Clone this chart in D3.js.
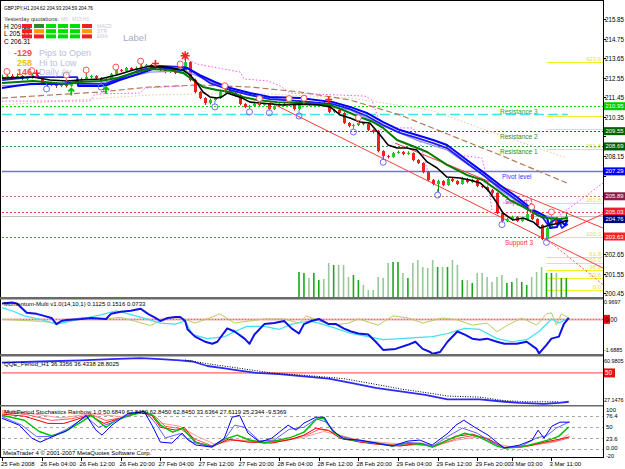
<!DOCTYPE html>
<html>
<head>
<meta charset="utf-8">
<script src="https://cdn.jsdelivr.net/npm/d3@7"></script>
<style>
  body { margin: 0; background: #fff; }
  svg text { font-family: 'Liberation Sans', Arial, sans-serif; }
</style>
</head>
<body>
<script>
// GBPJPY H1 candles, 25 Feb 20:00 .. 3 Mar 14:00 (bar index 0..114)
const openFirst = 212.54;
const closes = [
  212.59,212.65,212.54,212.65,212.48,212.54,212.70,212.59,212.25,212.14,
  212.25,212.09,212.20,212.09,212.25,212.42,212.48,212.59,212.65,212.54,
  212.42,212.48,212.76,212.98,212.93,213.10,212.98,213.10,213.21,213.27,
  213.21,213.15,212.98,212.87,212.93,212.82,212.87,213.43,212.42,211.75,
  211.41,211.13,211.30,211.41,211.75,211.86,211.69,211.58,211.08,210.91,
  210.96,211.08,211.02,211.08,210.79,210.96,211.08,211.02,211.08,210.79,
  211.08,211.13,211.02,211.08,211.13,211.08,210.63,210.74,210.57,210.01,
  209.84,209.89,210.01,209.95,209.61,209.50,208.43,208.15,208.10,208.32,
  208.38,208.27,208.32,207.93,207.76,207.25,206.81,206.58,206.75,206.52,
  206.86,206.75,206.58,206.86,206.69,206.81,206.47,206.41,206.24,206.08,
  204.95,204.50,204.61,204.73,204.50,204.61,204.89,204.61,204.28,203.49,
  204.11,204.61,204.33,204.62,204.76];
const highs = [
  212.72,212.78,212.75,212.80,212.70,212.62,212.84,212.79,212.62,212.30,
  212.32,212.28,212.26,212.24,212.30,212.48,212.56,212.84,212.72,212.70,
  212.58,212.55,212.82,213.05,213.04,213.16,213.14,213.18,213.36,213.33,
  213.32,213.25,213.20,213.03,213.00,212.98,213.05,213.66,213.48,212.50,
  211.80,211.46,211.38,211.47,211.82,211.98,211.90,211.74,211.62,211.12,
  211.02,211.14,211.25,211.14,211.12,211.00,211.12,211.14,211.25,211.12,
  211.12,211.28,211.18,211.14,211.20,211.22,211.25,210.82,210.80,210.62,
  210.06,209.96,210.18,210.06,210.00,209.66,209.62,208.48,208.22,208.38,
  208.46,208.44,208.42,208.36,207.98,207.80,207.30,206.86,206.82,206.80,
  206.92,206.92,206.80,206.98,206.92,206.88,206.86,206.54,206.46,206.30,
  206.12,205.00,204.70,204.80,204.78,204.68,205.15,204.94,204.66,204.32,
  204.16,204.68,204.66,204.70,204.93];
const lows = [
  212.48,212.52,212.46,212.50,212.40,212.42,212.50,212.52,212.18,212.05,
  212.08,211.98,212.02,212.00,212.04,212.20,212.36,212.44,212.52,212.46,
  212.30,212.28,212.44,212.70,212.86,212.88,212.92,212.94,213.06,213.15,
  213.12,213.06,212.92,212.80,212.82,212.76,212.78,212.84,212.34,211.68,
  211.35,211.02,211.05,211.25,211.36,211.70,211.62,211.50,211.00,210.84,
  210.85,210.92,210.96,210.98,210.72,210.74,210.92,210.96,210.98,210.70,
  210.74,211.02,210.96,210.98,211.02,211.02,210.56,210.58,210.50,209.95,
  209.76,209.70,209.84,209.88,209.55,209.42,208.36,207.95,208.02,208.05,
  208.28,208.20,208.22,207.86,207.70,207.18,206.74,206.50,206.12,206.45,
  206.48,206.68,206.52,206.54,206.62,206.64,206.40,206.34,206.16,205.98,
  204.88,204.42,204.44,204.52,204.44,204.46,204.55,204.55,204.20,203.42,
  203.44,204.06,204.26,204.28,204.59];

// tick volume, shown from bar 60 on
const volumeFirstBar = 60;
const volumes = [
  1250,1200,950,1200,850,900,1700,1600,1600,1600,1000,1100,850,600,350,350,
  1000,950,1700,1750,1750,1200,950,1700,1850,1500,1450,1850,1500,1500,1500,
  1850,1600,850,850,700,1200,1200,1000,750,1000,1100,700,750,950,750,600,
  1000,1250,1500,1200,1200,1200,950,950];

const timeLabels = [
  [0,"25 Feb 2008"],[8,"26 Feb 04:00"],[16,"26 Feb 12:00"],[24,"26 Feb 20:00"],
  [32,"27 Feb 04:00"],[40,"27 Feb 12:00"],[48,"27 Feb 20:00"],[56,"28 Feb 04:00"],
  [64,"28 Feb 12:00"],[72,"28 Feb 20:00"],[80,"29 Feb 04:00"],[88,"29 Feb 12:00"],
  [96,"29 Feb 20:00"],[103,"3 Mar 03:00"],[111,"3 Mar 11:00"]];

const priceTicks = [215.85,214.75,213.65,212.55,211.45,210.35,209.25,208.15,
  207.05,205.95,204.85,203.75,202.65,201.55,200.45];

// pivot levels
const levelNames = ["Resistance 3","Resistance 2","Resistance 1","Pivot level","Support 1","","Support 3"];
const levelPrices = [210.95, 209.55, 208.69, 207.29, 205.89, 205.03, 203.63];
const currentPrice = 204.76;
const cyanLevel = 210.52;

// fibonacci expansion (right side)
const fibPrices = [200.60,201.32,201.76,202.12,202.47,203.63,205.50,208.53,209.69,210.40,213.44];
const fibLabels = ["0.0","23.6","38.2","50.0","61.8","100.0","161.8","261.8","","","423.6"];
const fibStartBar = 110;

// moving averages: [bar, price]
const maBlack = [[0,212.53],[6.3,212.59],[9.7,212.42],[13.1,212.37],[15.8,212.42],[19.8,212.48],[23.2,212.70],[26.5,212.98],[29.9,213.21],[33.3,213.15],[36.6,212.98],[38,212.70],[39.4,212.25],[40.6,211.75],[42,211.47],[43.4,211.41],[44.4,211.47],[45.5,211.69],[46.7,211.58],[48.5,211.41],[50.1,211.18],[52.1,211.13],[56.8,211.02],[60.2,211.07],[64.2,211.02],[66.3,210.91],[68.3,210.46],[70.3,210.29],[72.3,210.06],[74.3,210.01],[76.4,209.33],[78,208.77],[79.8,208.60],[81.8,208.60],[83.8,208.49],[85.9,207.82],[87.9,207.48],[89.9,206.97],[92.5,206.92],[94.5,206.80],[96.6,206.64],[98.2,206.24],[100,205.51],[101.2,204.95],[103.2,204.56],[105.3,204.67],[107.3,204.45],[108.7,204.11],[110.7,204.28],[112.7,204.39],[114.3,204.56]];
const maGreen = [[0,212.25],[6.3,212.37],[13.1,212.20],[15.8,212.31],[19.8,212.37],[23.2,212.53],[26.5,212.82],[29.9,213.04],[34,212.98],[36.6,212.82],[38.6,212.42],[40.6,212.03],[43.4,211.86],[46.1,211.75],[48.7,211.47],[51.5,211.30],[55.6,211.18],[60.2,211.13],[66.3,211.02],[68.9,210.74],[72.3,210.34],[75,210.06],[77,209.73],[79.8,209.05],[82.4,208.77],[85.9,208.38],[89.9,207.65],[93.9,207.09],[97.2,206.80],[100,206.24],[102.6,205.68],[105.3,205.29],[108.1,204.84],[110.1,204.67],[112.7,204.61],[114.3,204.67]];
const maLavender = [[0,212.09],[9.7,212.20],[19.8,212.25],[29.9,212.87],[37,212.93],[40,212.59],[46.1,211.86],[52.1,211.47],[60.2,211.24],[70.3,210.74],[77,209.84],[83.8,209.05],[89.9,208.49],[97.2,207.09],[100.6,206.24],[107.3,205.01],[114.3,204.45]];
const maBlueA = [[0,211.97],[2.6,212.09],[5.7,212.20],[11.7,212.20],[15.2,212.31],[15.4,212.09],[19.8,212.09],[21.2,212.14],[23.8,212.42],[26.9,212.70],[29.9,212.98],[31.3,213.15],[36,212.98],[37.4,213.10],[40,212.70],[43,212.31],[46.1,211.97],[50.1,211.69],[54.1,211.47],[60.2,211.41],[66.9,211.18],[70.3,210.91],[73.7,210.57],[77,210.06],[80.4,209.61],[83.8,209.33],[87.1,209.05],[89.9,208.77],[93.9,207.93],[97.2,207.25],[100.6,206.52],[104,205.85],[107.3,205.12],[109.3,204.84],[110.1,204.67],[110.7,204.11],[112.1,204.16],[112.7,204.56],[113.7,204.28],[114.3,204.56]];
const maBlueB = [[0,212.42],[5.7,212.59],[15.2,212.59],[15.4,212.20],[20.8,212.20],[22.8,212.42],[27.9,212.98],[31.9,213.21],[37,213.15],[39,212.82],[42,212.25],[46.1,211.86],[50.1,211.58],[54.1,211.35],[60.2,211.24],[66.9,211.07],[70.3,210.79],[73.7,210.40],[77,209.89],[80.4,209.45],[83.8,209.17],[87.1,208.88],[89.9,208.60],[93.9,207.76],[97.2,207.09],[100.6,206.36],[104,205.68],[107.3,205.01],[109.3,204.67],[110.3,204.28],[111.1,204.45],[112.1,204.67],[113.1,204.11],[114.3,204.33]];
const maBrown = [[0,211.41],[19.8,211.75],[29.9,212.03],[40,212.14],[50.1,212.03],[60.2,211.75],[70.3,211.30],[80.4,210.46],[90.5,209.33],[100.6,208.21],[114.1,206.64]];
const maBeige = [[0,211.02],[29.9,211.58],[50.1,211.69],[70.3,211.41],[86.5,210.74],[100.6,209.33],[114.1,208.04]];
const stopSegments = [
  [[0,211.24],[17.8,211.24],[18.8,211.64],[27.9,211.69],[28.9,211.97],[36.6,212.09]],
  [[37,213.66],[39.4,213.32],[48.1,212.87],[48.9,212.48],[53.7,212.37],[56.2,212.09],[58.2,211.69],[73.3,211.52],[74.7,211.30],[76,210.29],[76.8,209.33]],
  [[79,209.73],[83,209.73],[84.4,209.05],[85.9,207.37]],
  [[91.9,208.21],[97,208.04],[98,206.80],[99,205.12]],
  [[101.2,205.51],[107.3,205.68]],
  [[112.7,204.84],[118.8,206.08],[121.4,206.64]]];

// trend lines: [[bar, price], [bar, price]]
const trendSolid = [
  [[54.1,211.18],[121.4,201.86]],
  [[79.4,208.88],[121.4,204.11]],
  [[109.7,203.43],[121.4,204.89]]];
const trendDotted = [[[109.7,203.55],[121.4,200.93]]];

// signal markers: [bar, price]
const redCircles = [[1,212.90],[6,212.95],[13,212.70],[17,212.98],[23,213.15],[28,213.48],[36,213.32],[45,212.10],[52,211.38],[58,211.38],[61,211.40],[72,210.30],[107,205.29],[111,205.01]];
const blueCircles = [[9,211.92],[20,212.03],[43,210.91],[50,210.63],[54,210.58],[60,210.40],[71,209.50],[77,207.80],[88,205.96],[101,204.30],[110,203.30]];
const greenArrows = [[14,211.95],[21,212.03]];
const redCrosses = [[7,212.80],[31,213.35],[66,211.32]];
const redStars = [[37,213.78]];

// Momentum-Multi: [bar, value]
const momBlue = [[0,0.77],[2,0.82],[3,0.77],[5,0.32],[7,0.27],[8.5,0.17],[10,0.07],[11,-0.23],[12,-0.08],[13,-0.03],[16,0.02],[18,0.07],[21,0.02],[22,0.27],[24,0.37],[26,0.42],[28,0.52],[29.5,0.27],[31,0.07],[32,-0.08],[33.5,0.07],[35,0.12],[36,0.12],[37,-0.08],[37.5,-0.49],[39,-0.84],[41,-1.09],[42.5,-1.19],[43.5,-1.09],[45.5,-0.44],[47,-0.59],[49,-0.94],[50,-1.19],[51,-0.74],[53,-0.23],[55,-0.18],[57,-0.08],[58.5,-0.44],[60,-0.69],[61,-0.23],[62.5,-0.08],[64,0.02],[66,-0.23],[67.5,-0.23],[69,-0.44],[70.5,-0.59],[72,-0.69],[74,-0.74],[75.5,-1.09],[77,-1.49],[79.5,-1.44],[82,-1.24],[83.5,-1.09],[85,-1.44],[86.5,-1.59],[87,-1.68],[88.5,-1.59],[90,-1.09],[92,-0.59],[93.5,-0.74],[95,-0.94],[96.5,-0.99],[98,-0.94],[100,-1.09],[101.5,-1.19],[104,-1.19],[106,-1.09],[108,-1.44],[108.5,-1.66],[110,-1.24],[111,-0.94],[112.5,-0.84],[113.5,-0.23],[114.5,0.07]];
const momCyan = [[0,0.57],[2,0.42],[4.5,0.17],[7.5,0.02],[11,-0.23],[16,0.02],[20,0.22],[23,0.42],[25.5,0.27],[28.5,0.07],[32,-0.18],[35,-0.23],[37,-0.08],[38.5,-0.74],[41.5,-0.94],[45,-0.84],[47,-0.59],[49.5,-0.34],[53,-0.34],[56,-0.49],[58.5,-0.23],[62,-0.08],[64,-0.18],[67.5,-0.44],[70.5,-0.69],[74,-0.84],[77,-0.99],[80.5,-0.94],[83.5,-0.89],[87,-0.84],[90,-0.69],[93.5,-0.44],[96.5,-0.49],[100,-0.94],[103,-1.09],[106,-0.99],[108.5,-0.59],[111,0.02],[112.5,-0.18],[114.5,0.07]];
const momOlive = [[0,0.0],[4,-0.05],[8,-0.1],[12,-0.2],[16,0.1],[20,0.0],[24,0.1],[27,-0.1],[30,-0.3],[33,0.07],[36,0.07],[39,-0.18],[42,0.07],[44,0.27],[47,-0.18],[50,-0.08],[53,0.02],[57,0.02],[60,-0.18],[61.5,0.17],[64,-0.08],[67,-0.28],[70,-0.18],[72,0.02],[76,-0.28],[79,0.17],[82,0.07],[85,-0.18],[89,0.07],[92,-0.03],[95,-0.28],[98,-0.18],[100,-0.6],[102,-0.3],[105,0.07],[108,-0.28],[110,0.27],[111,0.32],[112,-0.28],[113,0.27],[114.5,0.07]];
const momMax = 0.9697, momMin = -1.6885;

// QQE panel
const qqeBlue = [[0,57.6],[8,58.4],[16,59.3],[22,60.1],[28,60.9],[32,60.1],[36,59.3],[38.5,58.4],[41.5,55.1],[45,53.4],[48,51.7],[51.5,50.0],[56,49.1],[61,47.5],[66,45.8],[71,42.4],[75.5,39.0],[80.5,36.5],[85.5,33.9],[90,30.5],[96.5,30.5],[101.5,28.8],[104.5,28.0],[109.5,27.2],[112.5,28.0],[114.5,28.8]];
const qqeSignal = [[37,59.5],[41.5,56.8],[48,53.4],[54.5,50.0],[61,48.3],[69,45.8],[75.5,41.6],[80.5,38.2],[87,34.8],[90,33.0],[96.5,32.2],[101.5,29.6],[106,28.8],[112.5,28.8]];
const qqeMax = 60.9805, qqeMin = 27.1476, qqeLevel = 50;

// Stochastics rainbow
const stochBlue1 = [[0,71],[3.5,54.9],[6,24.4],[7.7,15],[10,26.8],[13.3,43.1],[17,78],[19,43.1],[20.2,31.5],[22.2,54.9],[25.5,82.9],[27.9,85.3],[28.7,87.6],[30.3,54.9],[32,15],[34.3,12.7],[36.4,36.1],[37.6,19.8],[39.2,8.1],[42.4,3.4],[44.9,24.4],[46.5,73.5],[48,78.2],[49.7,36.1],[52.1,15],[54.5,24.4],[57.8,54.9],[59.4,43.1],[61,59.6],[63.4,73.5],[65.1,73.5],[66.7,43.1],[69.1,22.1],[72.3,19.8],[75.5,12.7],[78.8,5.7],[82,17.4],[84.4,19.8],[86.9,8.1],[90.1,36.1],[91.7,54.9],[93.3,66.5],[95.8,47.8],[98.2,31.5],[101.4,1.1],[104.6,8.1],[107.1,19.8],[108.3,43.1],[109.5,24.4],[111.1,52.5],[112.7,61.9],[114.7,62]];
const stochBlue2 = [[0,75],[4,55],[7,28],[10,28],[13,45],[17,75],[19.5,50],[22,60],[26,82],[29,86],[31,60],[33,25],[36,35],[38.5,15],[42,4],[45,22],[47,55],[49,50],[52,18],[55,20],[58,45],[61,50],[63.5,70],[65.5,62],[68,30],[72,18],[76,12],[79,6],[82,14],[85,12],[87,5],[90,28],[93,48],[96,36],[99,15],[101.5,2],[105,6],[108,25],[110,30],[112,48],[114.5,62]];
const stochGreen = [[0,78],[4.5,66.5],[7.5,40],[10,30],[12.5,38.5],[16,62],[18,78],[21,50],[23,66.5],[26.5,80.6],[29,85.3],[30.5,78],[32,55],[34.5,38.5],[36.5,47.8],[39,15],[42.5,5],[45,22],[47.5,31.5],[50,20],[53,12.7],[56,19.8],[58.5,26.8],[61,38.5],[63.5,68.9],[65,71.2],[67,38.5],[69,22.1],[72.5,17.4],[75.5,12.7],[79,5.7],[82,12.7],[85.5,8.1],[87,3.4],[90.5,22.1],[93.5,36.1],[96.5,26.8],[100,5.7],[101.5,1.1],[105,3.4],[108,12.7],[111,22.1],[112.5,29.1],[114.5,50.7]];
const stochRed1 = [[0,81],[4.5,76],[9.3,59],[12.5,59],[15.8,71],[17.8,78],[20.6,59],[23.8,71],[27.9,85],[30.3,78],[32,50],[35.2,43],[36.8,50],[39.2,15],[42.4,3.4],[45.7,22],[49.7,15],[54.5,12.7],[58.6,22],[61,31.5],[63.4,47.8],[65.9,43],[68.3,24.4],[72.3,15],[75.5,10.4],[80.4,5.7],[84.4,12.7],[86.9,3.4],[91.7,29],[95,33.8],[98.2,22],[101.4,1.1],[106.3,5.7],[109.5,15],[112.7,22],[114.7,27.6]];
const stochRed2 = [[0,86],[5,80],[10,66],[14,70],[18,80],[21,66],[24,72],[28,85],[31,75],[33,52],[36,47],[39,22],[42.5,6],[46,20],[50,17],[55,15],[59,24],[62,34],[64,45],[66,42],[69,27],[73,17],[77,11],[81,7],[85,11],[87.5,5],[92,24],[95,30],[98,24],[101.5,3],[106,6],[110,14],[113,20],[114.5,25.2]];
const stochRed3 = [[0,90],[6,82],[12,72],[18,82],[24,75],[28,88],[32,60],[36,52],[39.5,28],[43,10],[47,20],[52,19],[57,18],[61,27],[65,40],[68,32],[72,20],[77,14],[82,9],[87,7],[92,20],[96,27],[100,10],[103,4],[108,9],[112,16],[114.5,33.6]];
const stochLevels = [76.4, 50, 23.6, 0];
const stochHistFirstBar = 29;
const stochHist = [
  -6,-8,-5,-7,-9,-6,-4,-7,-8,-5, 0,0,0,0,0,
  -5,-7,-9,-6,-8,-4,-6,-9,-7,-5,-8,-6,-9,-7,-5,-6,-8,-9,-7,-4,-6,-8,-5,-7,-6,
  0,0,0,0,
  -6,-8,-5,-9,-7,-6,-8,-4,-7,-9,-6,-5,-8,-7,-6,-9,
  0,0,0,0, -5,-7,-6,-8,-4,-6, 0,0,0,
  -7,-5,-8,-6,-9,-7,-5,-8,-6,-7,-9,-5,-6];

// header info
const headerText = "GBPJPY,H1 204.62 204.93 204.59 204.76";
const yesterdayRows = ["H 209.63", "L 205.55", "C 206.31"];
const signalRows = ["MACD", "STR", "EMA"];
const signalCols = ["M5", "M15", "H1"];
const signalGrid = [
  ["dn","up","up","up","up","dn"],
  ["dn","none","up","up","up","none"],
  ["dn","dn","up","up","up","dn"]];
const statValues = ["-129", "258", "146"];
const statNames = ["Pips to Open", "Hi to Low", "Daily Av"];

// ---- drawing ----
const W = 625, H = 469;
const plotL = 2, plotR = 603;

const svg = d3.select("body").append("svg")
    .attr("width", W)
    .attr("height", H)
    .style("display", "block");

svg.append("rect").attr("width", W).attr("height", H).attr("fill", "#fff");

const x = d3.scaleLinear().domain([0, 114]).range([2, 566.3]);
const yMain = d3.scaleLinear().domain([200.232, 216.805]).range([297, 2]);
const yVol = d3.scaleLinear().domain([0, 2000]).range([297, 257]);
const yMom = d3.scaleLinear().domain([momMin, momMax]).range([354, 299.5]);
const yQqe = d3.scaleLinear().domain([qqeMin, qqeMax]).range([404, 358]);
const ySto = d3.scaleLinear().domain([-20, 100]).range([457, 406]);

const defs = svg.append("defs");
function clip(id, top, bottom) {
    defs.append("clipPath").attr("id", id)
        .append("rect").attr("x", plotL).attr("y", top)
        .attr("width", plotR - plotL).attr("height", bottom - top);
}
clip("cMain", 1, 297);
clip("cMom", 299, 354);
clip("cQqe", 356, 405);
clip("cSto", 406, 457);

function text(g, tx, ty, s, size, color, opts) {
    opts = opts || {};
    const t = g.append("text")
        .attr("x", tx).attr("y", ty)
        .attr("font-size", size)
        .attr("font-weight", opts.bold ? "bold" : null)
        .attr("text-anchor", opts.anchor || "start")
        .attr("fill", color)
        .text(s);
    if (opts.fit) t.attr("textLength", opts.fit).attr("lengthAdjust", "spacingAndGlyphs");
    return t;
}

function pathOf(g, pts, ys, color, width, dash) {
    return g.append("path")
        .attr("d", d3.line().x(d => x(d[0])).y(d => ys(d[1]))(pts))
        .attr("fill", "none")
        .attr("stroke", color)
        .attr("stroke-width", width)
        .attr("stroke-dasharray", dash || null)
        .attr("stroke-linejoin", "round");
}

// ---------- main panel ----------
const main = svg.append("g").attr("clip-path", "url(#cMain)");

// horizontal levels
const levelLine = ["#00dd00", "#008000", "#2e9a2e", "#7070ff", "#c87868", "#ff4040", "#ff4040"];
const levelText = ["#22aa22", "#2a8a2a", "#2a8a2a", "#3a3aff", "#c04848", "#ff3030", "#ff3030"];
levelPrices.forEach((p, k) => {
    const yy = Math.round(yMain(p)) + 0.5;
    main.append("line")
        .attr("x1", plotL).attr("x2", plotR).attr("y1", yy).attr("y2", yy)
        .attr("stroke", levelLine[k])
        .attr("stroke-width", k === 3 ? 1.5 : 1)
        .attr("stroke-dasharray", k === 3 ? null : "2,2");
});
{
    const yc = Math.round(yMain(cyanLevel)) + 0.5;
    main.append("line").attr("x1", plotL).attr("x2", x(114.3)).attr("y1", yc).attr("y2", yc)
        .attr("stroke", "#40e4ee").attr("stroke-width", 1.5).attr("stroke-dasharray", "10,4");
    const yp = Math.round(yMain(currentPrice)) + 0.5;
    main.append("line").attr("x1", plotL).attr("x2", plotR).attr("y1", yp).attr("y2", yp)
        .attr("stroke", "#c0c0c0").attr("stroke-width", 1);
}

// fibonacci lines
fibPrices.forEach((p, k) => {
    const yy = Math.round(yMain(p)) + 0.5;
    main.append("line").attr("x1", x(fibStartBar)).attr("x2", plotR).attr("y1", yy).attr("y2", yy)
        .attr("stroke", "#f4ee30").attr("stroke-width", 1);
    if (fibLabels[k]) text(main, 601, yy - 1.5, fibLabels[k], 6, "#e8e040", { anchor: "end" });
});

// volumes
main.selectAll(".vol").data(volumes).enter().append("line")
    .attr("x1", (d, k) => x(volumeFirstBar + k))
    .attr("x2", (d, k) => x(volumeFirstBar + k))
    .attr("y1", yVol(0))
    .attr("y2", d => yVol(d))
    .attr("stroke", (d, k) => {
        const i = volumeFirstBar + k;
        const o = i ? closes[i - 1] : openFirst;
        return closes[i] >= o ? "#1aa81a" : "#98c898";
    })
    .attr("stroke-width", 1.6);

// level labels
levelNames.forEach((n, k) => {
    if (!n) return;
    const bx = k < 3 ? x(100.6) : k === 3 ? x(101) : x(101.6);
    text(main, bx, yMain(levelPrices[k]) + 8, n, 6.5, levelText[k]);
});

// slow averages and stops
pathOf(main, maBeige, yMain, "#e6c894", 1, "1.5,2");
pathOf(main, maBrown, yMain, "#b07a56", 1.2, "6,3");
stopSegments.forEach(s => pathOf(main, s, yMain, "#ff55ff", 1, "1.5,2"));

// trend lines
trendSolid.forEach(t => pathOf(main, t, yMain, "#ff3a3a", 1));
trendDotted.forEach(t => pathOf(main, t, yMain, "#ff5050", 1, "2,2"));

// candles
const candles = closes.map((c, i) => ({ i, o: i ? closes[i - 1] : openFirst, h: highs[i], l: lows[i], c }));
const cg = main.selectAll(".cdl").data(candles).enter().append("g");
cg.append("line")
    .attr("x1", d => Math.round(x(d.i)) + 0.5)
    .attr("x2", d => Math.round(x(d.i)) + 0.5)
    .attr("y1", d => yMain(d.h))
    .attr("y2", d => yMain(d.l))
    .attr("stroke", d => d.c >= d.o ? "#109010" : "#c01818")
    .attr("stroke-width", 1);
cg.append("rect")
    .attr("x", d => Math.round(x(d.i)) - 1)
    .attr("width", 3)
    .attr("y", d => yMain(Math.max(d.o, d.c)))
    .attr("height", d => Math.max(1, Math.abs(yMain(d.o) - yMain(d.c))))
    .attr("fill", d => d.c >= d.o ? "#22cc22" : "#ee2020");

// fast averages
pathOf(main, maLavender, yMain, "#9090ff", 1.3);
pathOf(main, maBlueB, yMain, "#1c1cf0", 1.8);
pathOf(main, maBlueA, yMain, "#0000ff", 2);
pathOf(main, maGreen, yMain, "#007a00", 2);
pathOf(main, maBlack, yMain, "#000000", 1.6);

// markers
redCircles.forEach(d => {
    const cx = x(d[0]), cy = yMain(d[1]);
    main.append("line").attr("x1", cx).attr("x2", cx).attr("y1", cy + 3).attr("y2", cy + 6)
        .attr("stroke", "#ff6060");
    main.append("circle").attr("cx", cx).attr("cy", cy).attr("r", 3)
        .attr("fill", "#fff").attr("stroke", "#ff5050");
});
blueCircles.forEach(d => {
    const cx = x(d[0]), cy = yMain(d[1]);
    main.append("line").attr("x1", cx).attr("x2", cx).attr("y1", cy - 3).attr("y2", cy - 6)
        .attr("stroke", "#6a6aff");
    main.append("circle").attr("cx", cx).attr("cy", cy).attr("r", 3)
        .attr("fill", "none").attr("stroke", "#6a6aff");
});
greenArrows.forEach(d => {
    const cx = x(d[0]), cy = yMain(d[1]);
    main.append("path")
        .attr("d", `M${cx},${cy + 7}V${cy}M${cx - 3},${cy + 3}L${cx},${cy}L${cx + 3},${cy + 3}`)
        .attr("fill", "none").attr("stroke", "#00c000").attr("stroke-width", 1.8);
});
redCrosses.forEach(d => {
    const cx = x(d[0]), cy = yMain(d[1]);
    main.append("path").attr("d", `M${cx - 3.5},${cy}H${cx + 3.5}M${cx},${cy - 3.5}V${cy + 3.5}`)
        .attr("stroke", "#ff2020").attr("stroke-width", 1.6);
});
redStars.forEach(d => {
    const cx = x(d[0]), cy = yMain(d[1]);
    main.append("path")
        .attr("d", `M${cx - 4.5},${cy}H${cx + 4.5}M${cx},${cy - 4.5}V${cy + 4.5}M${cx - 3.2},${cy - 3.2}L${cx + 3.2},${cy + 3.2}M${cx - 3.2},${cy + 3.2}L${cx + 3.2},${cy - 3.2}`)
        .attr("stroke", "#ff2020").attr("stroke-width", 1.5);
});

// header block
const info = svg.append("g");
text(info, 4, 10, headerText, 6, "#000", { fit: 89 });
text(info, 4, 20.5, "Yesterday quotations:", 5.8, "#333", { fit: 55 });
signalCols.forEach((c, k) => text(info, 61 + k * 11, 20.5, c, 5, "#c8c8dc"));
yesterdayRows.forEach((r, k) => text(info, 4, 28.5 + k * 7.5, r, 6.5, "#000"));
const cellColor = { up: "#00dd00", dn: "#f02020", none: "#ff9900" };
signalGrid.forEach((row, r) => {
    row.forEach((v, c) => {
        const cx = 22 + c * 12, cy = 24 + r * 5.2;
        info.append("rect").attr("x", cx).attr("y", cy).attr("width", 10).attr("height", 4)
            .attr("fill", r === 0 && c === 1 ? "#2a8a2a" : cellColor[v]);
    });
});
signalRows.forEach((s, k) => text(info, 97, 27.8 + k * 5.2, s, 5, "#c8c8dc"));
text(info, 123, 41, "Label", 9.5, "#a8acc8");
const statColor = ["#ff4a4a", "#e8c020", "#ff5030"];
statValues.forEach((v, k) => {
    text(info, 32, 56 + k * 9.5, v, 9, statColor[k], { anchor: "end", bold: true });
    text(info, 39, 56 + k * 9.5, statNames[k], 9, "#b8c0da");
});

// ---------- momentum panel ----------
const mom = svg.append("g").attr("clip-path", "url(#cMom)");
mom.append("line").attr("x1", plotL).attr("x2", plotR)
    .attr("y1", yMom(0)).attr("y2", yMom(0))
    .attr("stroke", "#f6b0b0").attr("stroke-width", 2);
mom.append("line").attr("x1", plotL).attr("x2", plotR)
    .attr("y1", yMom(0)).attr("y2", yMom(0))
    .attr("stroke", "#ff5050").attr("stroke-width", 1).attr("stroke-dasharray", "1,2");
pathOf(mom, momOlive, yMom, "#b8cc60", 1);
pathOf(mom, momCyan, yMom, "#40e0f0", 1.2);
pathOf(mom, momBlue, yMom, "#1010e8", 2);
text(svg, 4, 306, "Momentum-Multi v1.0(14,10,1) 0.1125 0.1516 0.0733", 6, "#000");

// ---------- QQE panel ----------
const qqe = svg.append("g").attr("clip-path", "url(#cQqe)");
qqe.append("line").attr("x1", plotL).attr("x2", plotR)
    .attr("y1", yQqe(qqeLevel)).attr("y2", yQqe(qqeLevel))
    .attr("stroke", "#ff4040").attr("stroke-width", 1);
pathOf(qqe, qqeBlue, yQqe, "#2a2aff", 1.8);
pathOf(qqe, qqeSignal, yQqe, "#000", 1, "1,1.5");
text(svg, 4, 366, "QQE_Period_H1 36.3356 36.4338 28.8025", 6, "#000");

// ---------- stochastics panel ----------
const sto = svg.append("g").attr("clip-path", "url(#cSto)");
stochLevels.forEach(v => {
    sto.append("line").attr("x1", plotL).attr("x2", plotR)
        .attr("y1", Math.round(ySto(v)) + 0.5).attr("y2", Math.round(ySto(v)) + 0.5)
        .attr("stroke", "#a8a8a8").attr("stroke-dasharray", "3,3");
});
stochHist.forEach((v, k) => {
    if (v >= 0) return;
    const xx = Math.round(x(stochHistFirstBar + k)) + 0.5;
    sto.append("line").attr("x1", xx).attr("x2", xx)
        .attr("y1", ySto(0) + 1).attr("y2", ySto(v))
        .attr("stroke", "#b4b4b4").attr("stroke-width", 1.2).attr("stroke-dasharray", "1.5,1");
});
pathOf(sto, stochRed3, ySto, "#ff9a9a", 1);
pathOf(sto, stochRed2, ySto, "#ff5a5a", 1);
pathOf(sto, stochRed1, ySto, "#ff0000", 1);
pathOf(sto, stochGreen, ySto, "#00c000", 1.5);
pathOf(sto, stochBlue2, ySto, "#6060ff", 1);
pathOf(sto, stochBlue1, ySto, "#0000ff", 1);
text(svg, 4, 414, "MultiPeriod Stochastics Rainbow 1.0 50.6849 62.8450 62.8450 62.8450 33.6364 27.6119 25.2344 -9.5369", 6, "#000");
text(svg, 3, 455, "MetaTrader 4 \u00a9 2001-2007 MetaQuotes Software Corp.", 6, "#000");

// ---------- frame, separators ----------
const frame = svg.append("g");
frame.append("rect").attr("x", 0.5).attr("y", 0.5).attr("width", plotR).attr("height", 457)
    .attr("fill", "none").attr("stroke", "#000");
[[297, 299], [354, 356], [405, 406]].forEach(s => {
    frame.append("rect").attr("x", 0).attr("y", s[0]).attr("width", plotR + 1).attr("height", s[1] - s[0] + 0.5)
        .attr("fill", "#6a6a6a");
});
frame.append("line").attr("x1", plotR + 0.5).attr("x2", plotR + 0.5).attr("y1", 0).attr("y2", 458)
    .attr("stroke", "#000");

// ---------- right axis ----------
const ax = svg.append("g");
const boxColor = ["#00cc00", "#006000", "#006000", "#0000ff", "#8c1c44", "#ee1c2c", "#ff2020"];
const boxes = levelPrices.map((p, k) => ({ p, c: boxColor[k] }));
boxes.splice(6, 0, { p: currentPrice, c: "#000080" });
priceTicks.forEach(p => {
    const yy = Math.round(yMain(p)) + 0.5;
    ax.append("line").attr("x1", plotR).attr("x2", plotR + 3).attr("y1", yy).attr("y2", yy).attr("stroke", "#000");
    // labels hidden behind a level box are not printed
    if (boxes.some(b => Math.abs(yMain(b.p) - yy) < 8.5)) return;
    text(ax, 605, yy + 2.3, p.toFixed(2), 6.3, "#000", { fit: 19 });
});
// boxes that sit too close are pushed apart, as the terminal does
let lastBoxY = -100;
boxes.forEach(b => {
    const yy = Math.max(yMain(b.p), lastBoxY + 7.5);
    lastBoxY = yy;
    ax.append("rect").attr("x", plotR + 1).attr("y", yy - 4).attr("width", 21).attr("height", 8).attr("fill", b.c);
    text(ax, plotR + 2.5, yy + 2, b.p.toFixed(2), 5.8, "#fff", { fit: 18 });
});
text(ax, 604, 304, momMax.toFixed(4), 5.4, "#000");
text(ax, 604, 352, momMin.toFixed(4), 5.4, "#000");
ax.append("rect").attr("x", plotR + 1).attr("y", yMom(0) - 4.5).attr("width", 6).attr("height", 9).attr("fill", "#ee1010");
text(ax, 605, yMom(0) + 2.3, "0.00", 6.3, "#000");
text(ax, 604, 363, qqeMax.toFixed(4), 5.4, "#000");
text(ax, 604, 402, qqeMin.toFixed(4), 5.4, "#000");
ax.append("rect").attr("x", plotR + 1).attr("y", yQqe(qqeLevel) - 4.5).attr("width", 11).attr("height", 9).attr("fill", "#ee1010");
text(ax, 605, yQqe(qqeLevel) + 2.3, String(qqeLevel), 6.3, "#fff");
text(ax, 606, 412, "100", 6, "#000");
stochLevels.forEach(v => text(ax, 606, ySto(v) + (v === 0 ? 1.2 : 2.2), v === 0 ? "0.00" : String(v), 6, "#000"));
text(ax, 606, 457.5, "-20", 5.6, "#000");

// ---------- time axis ----------
timeLabels.forEach(t => {
    const xx = Math.round(x(t[0])) + 0.5;
    ax.append("line").attr("x1", xx).attr("x2", xx).attr("y1", 458).attr("y2", 461).attr("stroke", "#000");
    text(ax, Math.max(1, xx - 2), 466, t[1], 6, "#000");
});
</script>
</body>
</html>
